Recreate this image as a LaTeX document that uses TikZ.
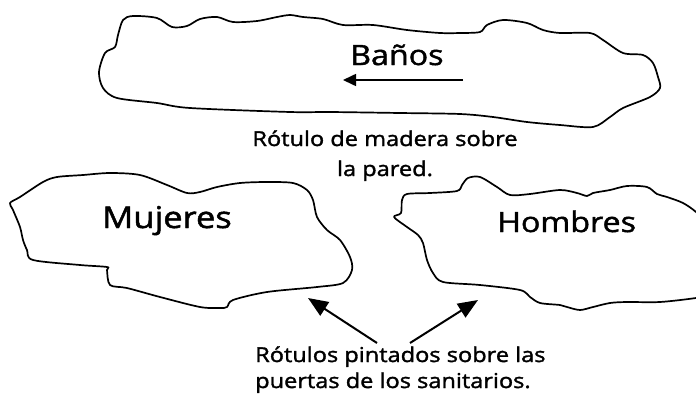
\documentclass[tikz,border=0pt]{standalone}
\usepackage{fontspec}
\newfontfamily\hand[FakeStretch=1.15,FakeBold=1.6]{Open Sans}
\usetikzlibrary{arrows.meta}
\tikzset{
  outline/.style={draw=black, line width=1.7pt, line join=round},
  bigtext/.style={inner sep=0pt, font=\hand\fontsize{28}{30}\selectfont},
  smalltext/.style={inner sep=0pt, font=\hand\fontsize{20.5}{24}\selectfont},
  pointer/.style={draw=black, line width=2pt, -{Triangle[length=20pt,width=16pt]}},
  smallpointer/.style={draw=black, line width=1.6pt, -{Triangle[length=13pt,width=12pt]}}
}
\begin{document}
\begin{tikzpicture}[x=1pt,y=-1pt]
\useasboundingbox (0,0) rectangle (696,394);
\clip (0,0) rectangle (696,394);
\fill[white] (0,0) rectangle (696,394);
% top sign
\draw[outline] plot[smooth cycle, tension=0.5] coordinates {
(123,20) (133,16) (157,18) (172,27) (187,26) (200,19) (217,17) (233,22) (257,21) (277,17) (290,15)
(303,17) (323,19) (343,25) (373,25) (407,30) (440,33) (460,33) (480,32) (487,25) (503,20) (527,23)
(543,30) (560,33) (590,33) (603,40) (623,53) (643,55) (653,63) (658,77) (660,88) (650,97) (623,108)
(610,117) (593,127) (560,125) (527,122) (493,117) (460,114) (400,113) (330,112) (290,112) (190,108)
(157,103) (117,98) (103,88) (99,72) (105,53) (115,47) (118,35)};
% Mujeres
\draw[outline] plot[smooth cycle, tension=0.5] coordinates {
(10,203) (20,197) (43,182) (57,177) (83,175) (110,173) (140,175) (167,185) (187,193) (200,192)
(217,187) (240,183) (267,182) (293,183) (307,190) (313,200) (317,217) (327,230) (340,240) (350,257)
(352,270) (343,283) (317,287) (267,292) (233,300) (227,307) (220,308) (200,307) (160,297) (127,288)
(110,285) (107,270) (107,267) (80,265) (33,260) (27,250) (23,240) (20,227) (13,210)};
% Hombres
\draw[outline] plot[smooth cycle, tension=0.5] coordinates {
(394,217) (401,213) (402,200) (407,194) (430,193) (457,191) (462,185) (468,178) (480,177) (497,187)
(510,195) (530,194) (560,190) (577,193) (587,196) (593,193) (610,190) (627,186) (647,187) (657,194)
(667,197) (683,203) (696,212) (708,225) (712,260) (708,295) (696,298) (660,302) (627,302) (610,303)
(593,307) (580,310) (567,307) (560,305) (540,303) (530,297) (520,290) (480,285) (443,282) (433,273)
(427,260) (423,243) (418,235) (407,227)};
% texts
\node[bigtext, anchor=base west] (banos) at (350,65) {Baños};
\node[bigtext, anchor=base west, font=\hand\fontsize{30}{32}\selectfont] (mujeres) at (102,228) {Mujeres};
\node[bigtext, anchor=base west] (hombres) at (497,232) {Hombres};
\node[smalltext, anchor=base] (rot1) at (385,146) {Rótulo de madera sobre};
\node[smalltext, anchor=base] (rot2) at (385,176) {la pared.};
\node[smalltext, anchor=base west] (pin1) at (255,362) {Rótulos pintados sobre las};
\node[smalltext, anchor=base west] (pin2) at (255,388) {puertas de los sanitarios.};
% arrows
\coordinate (a0) at (463,80);
\coordinate (a1) at (343,80);
\draw[smallpointer] (a0) -- (a1);
\coordinate (t1) at (377,343);
\coordinate (h1) at (308,298);
\coordinate (t2) at (410,343);
\coordinate (h2) at (478,300);
\draw[pointer] (t1) -- (h1);
\draw[pointer] (t2) -- (h2);
\end{tikzpicture}
\end{document}
